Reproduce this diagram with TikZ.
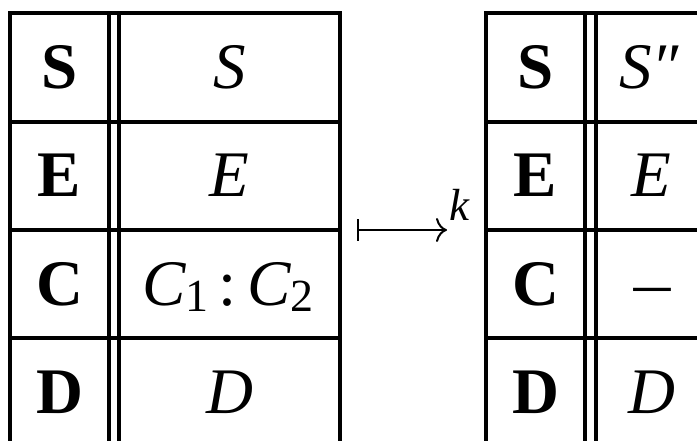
\documentclass[tikz,border=0pt]{standalone}
\usepackage{fontspec}
\setmainfont{Liberation Serif}
\usetikzlibrary{arrows.meta}
\begin{document}
\begin{tikzpicture}[x=1pt,y=-1pt,
  grid/.style={line width=3.6pt},
  lab/.style={anchor=base,font=\fontsize{65}{78}\selectfont\bfseries,inner sep=0pt},
  val/.style={anchor=base,font=\fontsize{65}{78}\selectfont\itshape,inner sep=0pt},
  maparrow/.style={line width=2pt,{Bar[width=22pt,line width=2pt]}-{To[length=11pt,width=24pt,line width=2pt]}}
]
\useasboundingbox (0,0) rectangle (697,441);
% left table grid
\foreach \y in {13,122,230,338} \draw[grid] (8.2,\y) -- (341.8,\y);
\foreach \x in {10,109.2,119,340} \draw[grid] (\x,11.2) -- (\x,441);
% right table grid
\foreach \y in {13,122,230,338} \draw[grid] (484.2,\y) -- (697,\y);
\foreach \x in {486,585,596} \draw[grid] (\x,11.2) -- (\x,441);
% left table texts
\node[lab] (l1) at (59.5,89) {S};
\node[lab] (l2) at (59.5,197) {E};
\node[lab] (l3) at (59.5,305.5) {C};
\node[lab] (l4) at (59.5,413) {D};
\node[val] (v1) at (229.5,89) {S};
\node[val] (v2) at (229.5,197) {E};
\node[val] (v3) at (228,305.5) {C\raisebox{-6pt}{\fontsize{46}{46}\selectfont\upshape 1}\hspace{10pt}{\upshape :}\hspace{10pt}C\raisebox{-6pt}{\fontsize{46}{46}\selectfont\upshape 2}};
\node[val] (v4) at (229.5,413) {D};
% right table texts
\node[lab] (r1) at (535.5,89) {S};
\node[lab] (r2) at (535.5,197) {E};
\node[lab] (r3) at (535.5,305.5) {C};
\node[lab] (r4) at (535.5,413) {D};
\node[val] (w1) at (649,89) {S″};
\node[val] (w2) at (651,197) {E};
\node[val] (w3) at (652,311) {\upshape\scalebox{1.25}[1]{−}};
\node[val] (w4) at (652,413) {D};
% arrow
\coordinate (as) at (357,230);
\coordinate (ae) at (447,230);
\draw[maparrow] (as) -- (ae);
\node[anchor=base west,font=\fontsize{45}{54}\selectfont\itshape,inner sep=0pt] (k) at (449,221) {k};
\end{tikzpicture}
\end{document}
